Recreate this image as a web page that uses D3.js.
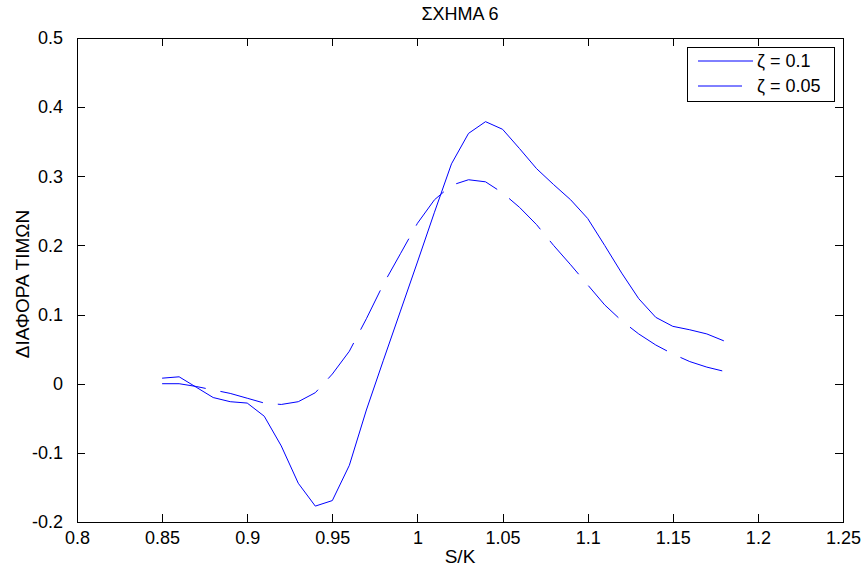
<!DOCTYPE html>
<html>
<head>
<meta charset="utf-8">
<script src="https://cdn.jsdelivr.net/npm/d3@7/dist/d3.min.js"></script>
<style>
  html, body { margin: 0; padding: 0; background: #ffffff; }
  svg { display: block; }
  text { font-family: "Liberation Sans", Arial, Helvetica, sans-serif; fill: #000; }
</style>
</head>
<body>
<svg id="chart" width="863" height="571"></svg>
<script>
// ---- data ----
const sk = [0.85, 0.86, 0.87, 0.88, 0.89, 0.90, 0.91, 0.92, 0.93, 0.94, 0.95, 0.96,
            0.97, 0.98, 0.99, 1.00, 1.01, 1.02, 1.03, 1.04, 1.05, 1.06, 1.07, 1.08,
            1.09, 1.10, 1.11, 1.12, 1.13, 1.14, 1.15, 1.16, 1.17, 1.18];
const zeta010 = [0.008, 0.010, -0.005, -0.020, -0.026, -0.028, -0.047, -0.090, -0.144, -0.177, -0.169, -0.118,
                 -0.038, 0.034, 0.105, 0.176, 0.248, 0.318, 0.362, 0.379, 0.368, 0.340, 0.311, 0.288,
                 0.266, 0.239, 0.200, 0.160, 0.123, 0.096, 0.083, 0.078, 0.072, 0.062];
const zeta005 = [0.000, 0.000, -0.004, -0.009, -0.014, -0.021, -0.028, -0.030, -0.026, -0.013, 0.014, 0.047,
                 0.094, 0.144, 0.188, 0.232, 0.266, 0.287, 0.295, 0.292, 0.276, 0.255, 0.230, 0.200,
                 0.172, 0.143, 0.114, 0.091, 0.072, 0.056, 0.043, 0.032, 0.024, 0.018];
const xTickValues = [0.8, 0.85, 0.9, 0.95, 1.0, 1.05, 1.1, 1.15, 1.2, 1.25];
const xTickLabels = ["0.8", "0.85", "0.9", "0.95", "1", "1.05", "1.1", "1.15", "1.2", "1.25"];
const yTickValues = [-0.2, -0.1, 0, 0.1, 0.2, 0.3, 0.4, 0.5];
const yTickLabels = ["-0.2", "-0.1", "0", "0.1", "0.2", "0.3", "0.4", "0.5"];
const seriesNames = ["ζ = 0.1", "ζ = 0.05"];
const titleText = "ΣΧΗΜΑ 6";
const xLabelText = "S/K";
const yLabelText = "ΔΙΑΦΟΡΑ ΤΙΜΩΝ";

// ---- layout ----
const L = 77, R = 843, T = 38, B = 522;
const svg = d3.select("#chart");
const x = d3.scaleLinear().domain([0.8, 1.25]).range([L, R]);
const y = d3.scaleLinear().domain([-0.2, 0.5]).range([B, T]);
const tickLen = 8;
const dash = "44,15";
const blue = "#0000ff";

// frame
svg.append("rect").attr("x", L).attr("y", T).attr("width", R - L).attr("height", B - T)
  .attr("fill", "#fff").attr("stroke", "#000").attr("stroke-width", 1).attr("shape-rendering", "crispEdges");

// axes (inward ticks on all four sides)
const fs = "18px";
const xb = svg.append("g").attr("transform", `translate(0,${B})`)
  .call(d3.axisBottom(x).tickValues(xTickValues).tickSizeInner(-tickLen).tickSizeOuter(0)
        .tickPadding(9).tickFormat((d, i) => xTickLabels[i]));
const xt = svg.append("g").attr("transform", `translate(0,${T})`)
  .call(d3.axisTop(x).tickValues(xTickValues).tickSizeInner(-tickLen).tickSizeOuter(0).tickFormat(""));
const yl = svg.append("g").attr("transform", `translate(${L},0)`)
  .call(d3.axisLeft(y).tickValues(yTickValues).tickSizeInner(-tickLen).tickSizeOuter(0)
        .tickPadding(14).tickFormat((d, i) => yTickLabels[i]));
const yr = svg.append("g").attr("transform", `translate(${R},0)`)
  .call(d3.axisRight(y).tickValues(yTickValues).tickSizeInner(-tickLen).tickSizeOuter(0).tickFormat(""));
[xb, xt, yl, yr].forEach(g => {
  g.select(".domain").remove();
  g.selectAll(".tick line").attr("stroke", "#000").attr("shape-rendering", "crispEdges");
  g.selectAll(".tick text").attr("font-size", fs).attr("font-family", "Liberation Sans, Arial, sans-serif").attr("fill", "#000");
});
xb.selectAll(".tick text").attr("dy", "0.71em");

// lines
const line = d3.line().x((d, i) => x(sk[i])).y(d => y(d));
const plot = svg.append("g");
plot.append("path").datum(zeta010).attr("d", line)
  .attr("fill", "none").attr("stroke", blue).attr("stroke-width", 1);
plot.append("path").datum(zeta005).attr("d", line)
  .attr("fill", "none").attr("stroke", blue).attr("stroke-width", 1).attr("stroke-dasharray", dash);

// title & axis labels
svg.append("text").attr("x", (L + R) / 2).attr("y", 20).attr("text-anchor", "middle")
  .attr("font-size", "18px").text(titleText);
svg.append("text").attr("x", (L + R) / 2).attr("y", 563).attr("text-anchor", "middle")
  .attr("font-size", "19px").text(xLabelText);
svg.append("text").attr("transform", `translate(29,${(T + B) / 2 + 4}) rotate(-90)`)
  .attr("text-anchor", "middle").attr("font-size", "19px").text(yLabelText);

// legend
const lg = svg.append("g");
lg.append("rect").attr("x", 687).attr("y", 47).attr("width", 147).attr("height", 54)
  .attr("fill", "#fff").attr("stroke", "#000").attr("stroke-width", 1).attr("shape-rendering", "crispEdges");
const legendRows = [
  { name: seriesNames[0], y: 61, x2: 753, dash: null },
  { name: seriesNames[1], y: 86, x2: 742, dash: dash }
];
legendRows.forEach(r => {
  const ln = lg.append("line").attr("x1", 698).attr("x2", r.x2).attr("y1", r.y).attr("y2", r.y)
    .attr("stroke", blue).attr("stroke-width", 1);
  if (r.dash) ln.attr("stroke-dasharray", r.dash);
  lg.append("text").attr("x", 757).attr("y", r.y).attr("dy", "0.35em")
    .attr("font-size", "18px").text(r.name);
});
</script>
</body>
</html>
